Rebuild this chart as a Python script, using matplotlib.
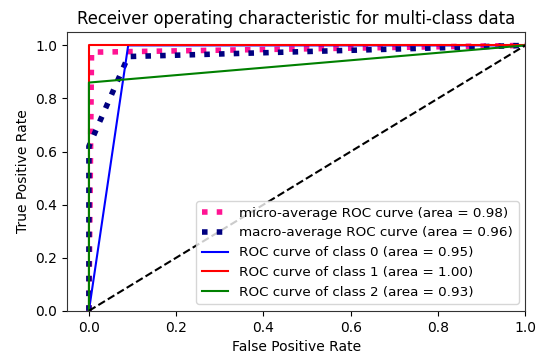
import matplotlib.pyplot as plt

# ROC curve points
micro_fpr = [0.0, 0.006, 0.03, 1.0]
micro_tpr = [0.0, 0.975, 0.975, 1.0]
macro_fpr = [0.0, 0.0, 0.09, 1.0]
macro_tpr = [0.0, 0.62, 0.958, 1.0]

class_fpr = [[0.0, 0.09, 1.0], [0.0, 0.0, 1.0], [0.0, 0.0, 1.0]]
class_tpr = [[0.0, 1.0, 1.0], [0.0, 1.0, 1.0], [0.0, 0.86, 1.0]]
class_auc = [0.95, 1.00, 0.93]
class_colors = ['blue', 'red', 'green']
micro_auc = 0.98
macro_auc = 0.96

fig = plt.figure(figsize=(5.5, 3.61), dpi=100)
ax = fig.add_axes([0.122, 0.139, 0.833, 0.772])

ax.plot(micro_fpr, micro_tpr, color='deeppink', linestyle=':', linewidth=4,
        label='micro-average ROC curve (area = {0:0.2f})'.format(micro_auc))
ax.plot(macro_fpr, macro_tpr, color='navy', linestyle=':', linewidth=4,
        label='macro-average ROC curve (area = {0:0.2f})'.format(macro_auc))
for i in range(3):
    ax.plot(class_fpr[i], class_tpr[i], color=class_colors[i], linewidth=1.5,
            label='ROC curve of class {0} (area = {1:0.2f})'.format(i, class_auc[i]))

ax.plot([0, 1], [0, 1], 'k--', linewidth=1.5)
ax.set_xlim([-0.05, 1.0])
ax.set_ylim([0.0, 1.05])
ax.set_xlabel('False Positive Rate', fontsize=10)
ax.set_ylabel('True Positive Rate', fontsize=10)
ax.set_title('Receiver operating characteristic for multi-class data', fontsize=11.9)
ax.tick_params(labelsize=10)
for s in ax.spines.values():
    s.set_color('#333333')
ax.legend(loc='lower right', fontsize=9.7)

fig.savefig('out.png', dpi=100)
